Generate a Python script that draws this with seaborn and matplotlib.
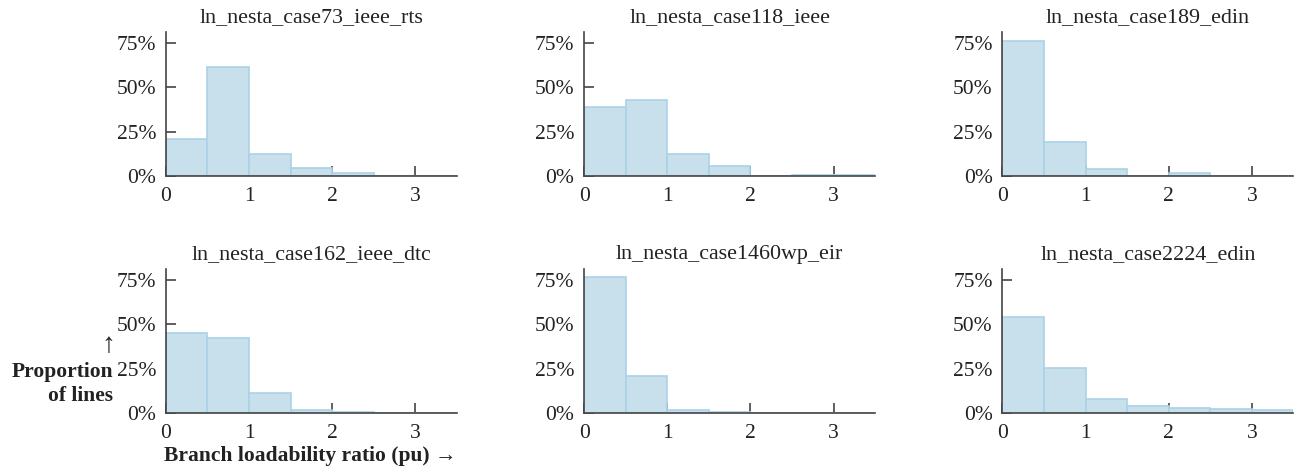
import numpy as np
import pandas as pd
import matplotlib
matplotlib.use("Agg")
import matplotlib.pyplot as plt
import seaborn as sns
from matplotlib.ticker import PercentFormatter

cases = ["ln_nesta_case73_ieee_rts", "ln_nesta_case118_ieee", "ln_nesta_case189_edin",
         "ln_nesta_case162_ieee_dtc", "ln_nesta_case1460wp_eir", "ln_nesta_case2224_edin"]
bin_edges = [0.0, 0.5, 1.0, 1.5, 2.0, 2.5, 3.0, 3.5]
prop_73 = [0.210, 0.614, 0.125, 0.043, 0.015, 0.0, 0.0]
prop_118 = [0.389, 0.429, 0.125, 0.055, 0.0, 0.004, 0.004]
prop_189 = [0.761, 0.189, 0.040, 0.0, 0.015, 0.0, 0.0]
prop_162 = [0.449, 0.421, 0.114, 0.017, 0.0075, 0.0, 0.0]
prop_1460 = [0.767, 0.211, 0.019, 0.005, 0.0, 0.0, 0.0]
prop_2224 = [0.541, 0.256, 0.080, 0.039, 0.028, 0.022, 0.017]
proportions = [prop_73, prop_118, prop_189, prop_162, prop_1460, prop_2224]
x_ticks = [0, 1, 2, 3]
y_ticks = [0.0, 0.25, 0.50, 0.75]

sns.set_theme(style="white")
plt.rcParams['font.family'] = ['Liberation Serif', 'DejaVu Serif']

fig, axes = plt.subplots(2, 3, figsize=(12.96, 4.75), dpi=100)
fig.subplots_adjust(left=0.128, right=0.998, top=0.9326, bottom=0.1305, wspace=0.437, hspace=0.646)

centers = [(a + b) / 2 for a, b in zip(bin_edges[:-1], bin_edges[1:])]
spine_c = "#444444"
txt_c = "#222222"
for ax, name, props in zip(axes.flat, cases, proportions):
    df = pd.DataFrame({"ratio": centers, "w": props})
    sns.histplot(data=df, x="ratio", weights="w", bins=bin_edges, stat="count",
                 color="#c7e0ec", edgecolor="#abd1e6", linewidth=1.2, alpha=1.0, ax=ax)
    ax.set_xlim(0, 3.5)
    ax.set_ylim(0, 0.81)
    ax.set_xticks(x_ticks)
    ax.set_yticks(y_ticks)
    ax.yaxis.set_major_formatter(PercentFormatter(1.0, decimals=0))
    ax.set_xlabel("")
    ax.set_ylabel("")
    ax.set_title(name, fontsize=15.8, pad=7, color=txt_c)
    for s in ["top", "right"]:
        ax.spines[s].set_visible(False)
    for s in ["left", "bottom"]:
        ax.spines[s].set_color(spine_c)
        ax.spines[s].set_linewidth(1.2)
    ax.tick_params(direction="in", length=7, width=1.2, color=spine_c,
                   labelsize=15.5, labelcolor=txt_c,
                   bottom=True, left=True)
    ax.tick_params(axis="y", pad=7)
    ax.tick_params(axis="x", pad=8)

ax0 = axes[1, 0]
ax0.text(-0.198, 0.47, "↑", transform=ax0.transAxes, ha="center", va="center",
         fontsize=20, color=txt_c)
ax0.text(-0.182, 0.203, "Proportion\nof lines", transform=ax0.transAxes, ha="right", va="center",
         fontsize=15.5, fontweight="bold", color=txt_c, linespacing=1.25)
ax0.text(0.495, -0.30, "Branch loadability ratio (pu) →", transform=ax0.transAxes,
         ha="center", va="center", fontsize=15.5, fontweight="bold", color=txt_c)

fig.savefig("out.png", dpi=100)
